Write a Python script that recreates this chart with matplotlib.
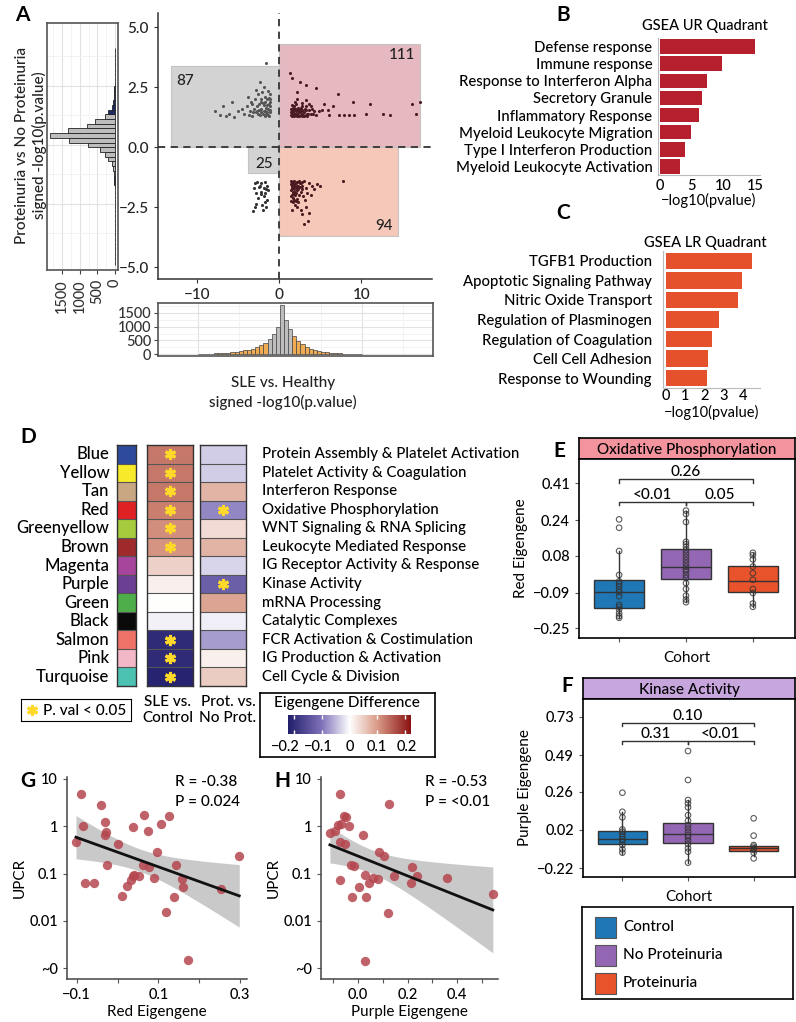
import numpy as np
import matplotlib.pyplot as plt
from matplotlib.patches import Rectangle
from matplotlib.colors import LinearSegmentedColormap, to_rgb
from matplotlib.transforms import ScaledTranslation

plt.rcParams['font.family'] = ['Lato', 'DejaVu Sans']
plt.rcParams['font.weight'] = 'medium'
plt.rcParams['axes.unicode_minus'] = True

W, H = 796, 1022
fig = plt.figure(figsize=(W / 100, H / 100), dpi=100)


def px_axes(l, t, r, b):
    return fig.add_axes([l / W, 1 - b / H, (r - l) / W, (b - t) / H])


def ftext(x, y, s, **kw):
    fig.text(x / W, 1 - y / H, s, **kw)


# ---------------- data ----------------
# panel A quadrant scatter (signed -log10 p)
ur_pts = [(1.3, 3.1), (1.5, 2.9), (2.5, 2.7), (3.2, 2.6), (4.4, 2.46), (2.1, 2.3), (7.2, 2.2), (9.0, 1.9),
          (11.1, 1.8), (16.2, 1.8), (17.1, 1.9), (16.6, 1.4), (12.6, 1.4), (13.5, 1.35), (10.5, 1.4),
          (9.1, 1.35), (8.5, 1.35), (7.9, 1.35), (7.3, 1.35), (6.5, 1.7), (5.9, 1.55), (5.2, 1.55), (5.4, 1.8),
          (1.4, 1.35), (1.6, 1.45), (1.8, 1.3), (2.0, 1.5), (2.2, 1.4), (2.4, 1.6), (2.6, 1.35), (2.8, 1.7),
          (3.0, 1.45), (3.2, 1.55), (3.4, 1.3), (3.6, 1.8), (3.8, 1.4), (4.0, 1.6), (4.2, 1.5), (4.5, 1.35),
          (1.5, 1.75), (1.7, 1.6), (1.9, 1.9), (2.1, 1.3), (2.3, 1.65), (2.5, 1.45), (2.7, 1.85), (2.9, 1.35),
          (3.1, 1.6), (3.3, 1.95), (3.5, 1.4), (3.9, 1.7), (1.6, 1.4), (1.8, 1.55), (2.0, 1.8), (2.2, 2.0),
          (2.6, 1.5), (3.0, 1.3), (3.4, 1.4), (4.8, 1.5), (1.4, 1.6), (1.7, 1.35), (2.4, 1.3), (2.8, 1.55),
          (1.5, 1.5), (1.7, 1.45), (1.9, 1.4), (2.1, 1.55), (2.3, 1.35), (2.5, 1.55), (2.7, 1.4), (2.9, 1.5),
          (1.4, 1.45), (1.6, 1.65), (1.8, 1.7), (2.0, 1.35), (2.2, 1.6), (2.4, 1.45), (2.6, 1.65), (3.2, 1.35),
          (3.6, 1.55), (4.1, 1.4), (1.5, 1.3), (1.9, 1.6), (2.3, 1.5), (2.7, 1.3), (3.3, 1.7), (6.1, 1.35)]
ul_pts = [(-7.8, 1.5), (-7.2, 1.35), (-6.9, 1.7), (-6.5, 1.3), (-6.2, 1.4), (-5.8, 1.9), (-5.5, 1.25),
          (-5.0, 1.5), (-4.6, 1.6), (-4.3, 1.4), (-4.0, 1.7), (-3.8, 2.1), (-3.6, 1.5), (-3.4, 1.8),
          (-3.3, 1.3), (-3.1, 1.6), (-3.0, 2.0), (-2.9, 1.45), (-2.7, 1.7), (-2.6, 2.2), (-2.5, 1.55),
          (-2.4, 1.35), (-2.3, 1.9), (-2.2, 1.6), (-2.1, 2.3), (-2.0, 1.4), (-1.9, 1.75), (-1.8, 2.1),
          (-1.7, 1.5), (-1.6, 1.65), (-1.5, 2.0), (-1.4, 1.35), (-1.3, 1.8), (-1.2, 2.2), (-1.1, 1.55),
          (-1.9, 2.5), (-2.4, 2.7), (-1.6, 3.5), (-1.3, 1.3), (-2.8, 2.4), (-3.5, 1.9), (-1.5, 1.45),
          (-2.0, 1.85), (-1.2, 1.7), (-2.6, 1.4), (-1.8, 1.3), (-3.7, 1.35), (-2.2, 2.0), (-1.4, 2.35),
          (-1.2, 1.45), (-1.3, 2.05), (-1.5, 1.75), (-1.7, 1.9), (-1.1, 1.9), (-1.4, 1.6), (-2.3, 1.45),
          (-2.7, 1.5), (-3.2, 1.45), (-1.6, 1.4), (-1.2, 2.0), (-1.9, 1.5), (-2.5, 1.8)]
ll_pts = [(-3.0, -1.5), (-2.7, -1.45), (-2.2, -1.5), (-1.8, -1.45), (-3.1, -1.7), (-2.5, -1.65),
          (-1.9, -1.7), (-1.5, -1.6), (-2.9, -1.9), (-2.3, -1.85), (-1.7, -1.9), (-1.4, -1.8),
          (-2.6, -2.1), (-1.9, -2.05), (-1.5, -2.2), (-2.8, -2.35), (-2.1, -2.4), (-1.6, -2.5),
          (-3.2, -2.65), (-2.0, -2.6), (-2.4, -1.6), (-1.6, -1.75), (-2.2, -1.95), (-1.8, -2.3), (-3.0, -2.5)]
lr_pts = [(1.4, -1.4), (1.6, -1.45), (1.8, -1.4), (2.0, -1.5), (2.2, -1.45), (2.4, -1.4), (2.6, -1.5),
          (2.8, -1.45), (3.0, -1.4), (1.5, -1.6), (1.7, -1.65), (1.9, -1.55), (2.1, -1.7), (2.3, -1.6),
          (2.5, -1.65), (2.7, -1.6), (1.4, -1.8), (1.6, -1.85), (1.8, -1.75), (2.0, -1.9), (2.2, -1.8),
          (2.6, -1.85), (3.2, -1.7), (1.5, -2.0), (1.7, -2.1), (1.9, -2.0), (2.1, -2.15), (2.4, -2.0),
          (1.4, -2.25), (1.6, -2.3), (1.9, -2.4), (2.3, -2.3), (3.6, -1.5), (4.0, -1.6), (4.6, -1.55),
          (3.4, -1.9), (3.9, -2.0), (3.1, -2.2), (4.2, -1.75), (2.6, -2.6), (3.3, -2.5), (2.8, -2.8),
          (3.6, -2.75), (3.0, -3.2), (3.5, -3.1), (7.8, -1.4), (5.0, -1.6), (2.2, -2.5), (1.5, -2.6),
          (2.9, -2.05), (1.5, -1.5), (1.8, -1.6), (2.0, -1.65), (1.6, -1.95), (1.8, -2.2), (1.4, -1.55),
          (1.7, -1.5), (2.1, -1.45), (2.3, -1.75), (1.5, -1.7), (1.9, -1.85), (2.5, -1.5), (1.7, -1.95),
          (1.4, -2.05), (2.0, -2.25), (2.7, -1.75), (1.6, -1.6), (2.2, -1.6)]

quad_x0 = [0, -13.2, -3.8, 0]
quad_x1 = [17.1, 0, 0, 14.5]
quad_y0 = [0, 0, -1.06, -3.7]
quad_y1 = [4.3, 3.4, 0, 0]
quad_colors = ['#e6b9c0', '#d3d3d3', '#d3d3d3', '#f5c8ba']
quad_counts = ['111', '87', '25', '94']
count_x = [14.9, -11.5, -1.9, 12.7]
count_y = [3.85, 2.75, -0.72, -3.3]

# marginal histograms
xhist_centers = np.arange(-9.75, 10, 0.5)
xhist_counts = [20, 20, 25, 30, 35, 40, 50, 60, 75, 90, 110, 140, 170, 210, 260, 330, 420, 560, 750, 1000,
                1760, 1250, 900, 650, 480, 360, 270, 200, 150, 115, 90, 70, 55, 45, 38, 30, 25, 22, 20, 18]
yhist_centers = np.round(np.arange(-5.0, 4.01, 0.2), 2)
yhist_counts = [3, 3, 3, 3, 3, 4, 4, 4, 5, 5, 6, 7, 8, 9, 10, 12, 14, 16, 20, 30, 50, 94, 190, 283,
                425, 755, 1295, 1850, 1320, 800, 570, 283, 190, 90, 55, 35, 24, 16, 12, 9, 7, 6, 5, 4, 3, 3]

# panels B / C
ur_terms = ['Defense response', 'Immune response', 'Response to Interferon Alpha', 'Secretory Granule',
            'Inflammatory Response', 'Myeloid Leukocyte Migration', 'Type I Interferon Production',
            'Myeloid Leukocyte Activation']
ur_vals = [15.0, 9.8, 7.4, 6.6, 6.1, 4.9, 3.9, 3.1]
lr_terms = ['TGFB1 Production', 'Apoptotic Signaling Pathway', 'Nitric Oxide Transport',
            'Regulation of Plasminogen', 'Regulation of Coagulation', 'Cell Cell Adhesion',
            'Response to Wounding']
lr_vals = [4.5, 3.95, 3.75, 2.75, 2.4, 2.2, 2.15]

# panel D
modules = ['Blue', 'Yellow', 'Tan', 'Red', 'Greenyellow', 'Brown', 'Magenta', 'Purple', 'Green', 'Black',
           'Salmon', 'Pink', 'Turquoise']
module_colors = ['#2e4a9c', '#f7ea2a', '#c9a783', '#e02124', '#a6cb3c', '#9e2a2b', '#a7449b', '#6b3f93',
                 '#4dae4a', '#0a0a0a', '#ee7268', '#f3b8c8', '#4cc2b2']
module_terms = ['Protein Assembly & Platelet Activation', 'Platelet Activity & Coagulation',
                'Interferon Response', 'Oxidative Phosphorylation', 'WNT Signaling & RNA Splicing',
                'Leukocyte Mediated Response', 'IG Receptor Activity & Response', 'Kinase Activity',
                'mRNA Processing', 'Catalytic Complexes', 'FCR Activation & Costimulation',
                'IG Production & Activation', 'Cell Cycle & Division']
sle_diff = [0.13, 0.13, 0.13, 0.125, 0.11, 0.105, 0.045, 0.015, 0.0, -0.01, -0.2, -0.2, -0.21]
prot_diff = [-0.035, -0.035, 0.075, -0.085, 0.035, 0.075, -0.03, -0.125, 0.09, -0.012, -0.07, 0.015, 0.05]
sle_sig = [0, 1, 2, 3, 4, 5, 10, 11, 12]
prot_sig = [3, 7]

# panels E / F
cohorts = ['Control', 'No Proteinuria', 'Proteinuria']
cohort_colors = ['#1f78b5', '#9467b5', '#e9532b']
red_pts = [
    [0.245, 0.207, 0.101, -0.008, -0.037, -0.048, -0.060, -0.075, -0.087, -0.105, -0.143, -0.153, -0.165,
     -0.183, -0.195, -0.203],
    [0.285, 0.27, 0.233, 0.143, 0.132, 0.12, 0.105, 0.09, 0.075, 0.06, 0.045, 0.03, 0.018, 0.008, -0.008,
     -0.022, -0.045, -0.072, -0.102, -0.12, -0.132],
    [0.093, 0.082, 0.063, 0.030, 0.0, -0.03, -0.072, -0.09, -0.138, -0.153]]
red_q1 = [-0.157, -0.026, -0.085]
red_med = [-0.087, 0.030, -0.037]
red_q3 = [-0.030, 0.108, 0.035]
red_lo = [-0.203, -0.132, -0.153]
red_hi = [0.101, 0.285, 0.093]
red_pvals = ['<0.01', '0.05', '0.26']

purple_pts = [
    [0.254, 0.134, 0.099, 0.023, 0.009, -0.005, -0.022, -0.039, -0.054, -0.075, -0.102, -0.123],
    [0.516, 0.334, 0.208, 0.187, 0.162, 0.113, 0.078, 0.05, 0.03, 0.008, -0.013, -0.027, -0.048, -0.069,
     -0.096, -0.117, -0.186],
    [0.093, -0.016, -0.075, -0.085, -0.096, -0.106, -0.123, -0.159]]
pur_q1 = [-0.069, -0.064, -0.111]
pur_med = [-0.039, -0.008, -0.096]
pur_q3 = [0.015, 0.061, -0.081]
pur_lo = [-0.132, -0.186, -0.145]
pur_hi = [0.134, 0.208, -0.075]
pur_pvals = ['0.31', '<0.01', '0.10']

# panels G / H
red_eig = [-0.090, -0.084, -0.102, -0.040, -0.031, -0.028, -0.031, -0.025, -0.080, -0.057, 0.002, 0.037,
           0.075, 0.065, 0.096, 0.107, 0.125, 0.143, 0.089, 0.052, 0.037, 0.032, 0.022, 0.011, 0.063, 0.076,
           0.157, 0.160, 0.137, 0.118, 0.173, 0.253, 0.298, 0.041]
red_upcr = [4.7, 1.03, 0.46, 2.8, 1.25, 0.74, 0.65, 0.15, 0.063, 0.063, 0.43, 0.98, 0.8, 1.76, 0.28, 1.13,
            1.62, 0.15, 0.08, 0.09, 0.09, 0.074, 0.054, 0.033, 0.155, 0.14, 0.078, 0.052, 0.032, 0.015,
            0.0015, 0.046, 0.24, 0.093]
pur_eig = [-0.074, -0.114, -0.092, -0.082, -0.071, -0.058, -0.048, -0.038, -0.074, -0.051, 0.020, 0.124,
           -0.028, -0.015, -0.074, 0.003, 0.026, 0.043, 0.061, 0.079, 0.084, 0.106, 0.147, 0.218, 0.238,
           0.215, 0.032, -0.024, 0.120, 0.027, 0.360, 0.545]
pur_upcr = [4.7, 0.72, 0.78, 1.08, 1.13, 1.67, 1.57, 1.0, 0.46, 0.43, 0.66, 2.9, 0.153, 0.146, 0.072, 0.052,
            0.094, 0.063, 0.080, 0.076, 0.28, 0.24, 0.087, 0.14, 0.087, 0.063, 0.032, 0.032, 0.0144, 0.0014,
            0.080, 0.037]
upcr_ticks = [10, 1, 0.1, 0.01, 0.001]
upcr_labels = ['10', '1', '0.1', '0.01', '~0']

heat_cmap = LinearSegmentedColormap.from_list(
    'eig', [(0, '#201f6b'), (0.27, '#7f70b8'), (0.5, '#ffffff'), (0.73, '#d99a86'), (1, '#8a1212')])

# ---------------- panel A ----------------
ftext(22, 15, 'A', fontsize=15, fontweight='bold', ha='center', va='center')
ax = px_axes(158, 13, 432, 279)
ax.set_xlim(-14.8, 18.6)
ax.set_ylim(-5.5, 5.6)
for x0, x1, y0, y1, c in zip(quad_x0, quad_x1, quad_y0, quad_y1, quad_colors):
    ax.add_patch(Rectangle((x0, y0), x1 - x0, y1 - y0, facecolor=c, edgecolor='#c4c4c4', lw=0.8, zorder=0))
for s, x, y in zip(quad_counts, count_x, count_y):
    ax.text(x, y, s, fontsize=11, ha='center', va='center', color='#222')
for pts, c in [(ur_pts, '#4a1c22'), (lr_pts, '#4a1c22'), (ul_pts, '#555555'), (ll_pts, '#333333')]:
    p = np.array(pts)
    ax.scatter(p[:, 0], p[:, 1], s=5, color=c, lw=0, zorder=3)
ax.axvline(0, ls=(0, (4, 3)), color='#333', lw=1.3, zorder=4)
ax.axhline(0, ls=(0, (4, 3)), color='#333', lw=1.3, zorder=4)
ax.set_xticks([-10, 0, 10])
ax.set_yticks([-5, -2.5, 0, 2.5, 5])
ax.set_yticklabels(['\u22125.0', '\u22122.5', '0.0', '2.5', '5.0'])
ax.tick_params(labelsize=11, color='#333', length=3, width=0.8, labelcolor='#222')
for sp in ['top', 'right']:
    ax.spines[sp].set_visible(False)
for sp in ['left', 'bottom']:
    ax.spines[sp].set_color('#333')
    ax.spines[sp].set_linewidth(1.1)

# left marginal histogram
axl = px_axes(47, 23, 118, 270)
axl.set_ylim(-5.3, 5.17)
axl.set_xlim(1930, -85)
ycols = ['#bdbdbd' if abs(c) < 1.35 else '#1c2a66' for c in yhist_centers]
axl.barh(yhist_centers, yhist_counts, height=0.2, color=ycols, edgecolor='#222', lw=0.6, zorder=3)
axl.set_xticks([1500, 1000, 500, 0])
axl.set_xticks([1750, 1250, 750, 250], minor=True)
axl.set_yticks([-2.5, 0, 2.5])
axl.set_yticks([-3.75, -1.25, 1.25, 3.75], minor=True)
axl.grid(True, which='major', color='#e2e2e2', lw=0.8)
axl.grid(True, which='minor', color='#efefef', lw=0.5)
axl.tick_params(axis='x', labelrotation=90, labelsize=10.5, length=3, color='#444', labelcolor='#333')
axl.tick_params(axis='y', labelleft=False, length=0)
axl.tick_params(which='minor', length=0)
for sp in axl.spines.values():
    sp.set_color('#555')
    sp.set_linewidth(1.2)

# bottom marginal histogram
axh = px_axes(158, 303, 433, 356)
axh.set_xlim(-14.8, 18.6)
axh.set_ylim(-60, 1850)
xcols = ['#bdbdbd' if abs(c) < 1.5 else '#f0ab55' for c in xhist_centers]
axh.bar(xhist_centers, xhist_counts, width=0.5, color=xcols, edgecolor='#444', lw=0.5, zorder=3)
axh.set_yticks([0, 500, 1000, 1500])
axh.set_yticks([250, 750, 1250, 1750], minor=True)
axh.set_xticks([-10, 0, 10])
axh.set_xticks([-5, 5, 15], minor=True)
axh.grid(True, which='major', color='#e2e2e2', lw=0.8)
axh.grid(True, which='minor', color='#efefef', lw=0.5)
axh.tick_params(axis='x', labelbottom=False, length=0)
axh.tick_params(axis='y', labelsize=10.5, length=3, color='#444', labelcolor='#333', pad=2)
axh.tick_params(which='minor', length=0)
for sp in axh.spines.values():
    sp.set_color('#555')
    sp.set_linewidth(1.2)

ftext(31, 145, 'Proteinuria vs No Proteinuria\nsigned -log10(p.value)', rotation=90, ha='center',
      va='center', fontsize=11, linespacing=1.2, color='#222')
ftext(283, 383, 'SLE vs. Healthy', ha='center', va='center', fontsize=11, color='#222')
ftext(283, 402, 'signed -log10(p.value)', ha='center', va='center', fontsize=11, color='#222')

# ---------------- panel B ----------------
ftext(563, 15, 'B', fontsize=15, fontweight='bold', ha='center', va='center')
ftext(705, 26, 'GSEA UR Quadrant', ha='center', va='center', fontsize=10.5)
axb = px_axes(658, 38, 760, 175)
yb = np.arange(len(ur_terms))
axb.barh(yb, ur_vals, height=0.84, color='#b51f2e')
axb.set_ylim(len(ur_terms) - 0.5, -0.5)
axb.set_xlim(-0.3, 15.75)
axb.set_yticks(yb)
axb.set_yticklabels(ur_terms, fontsize=10.7)
axb.set_xticks([0, 5, 10, 15])
axb.tick_params(axis='y', length=0, pad=4)
axb.tick_params(axis='x', length=0, labelsize=10.5, pad=3)
axb.set_xlabel('\u2212log10(pvalue)', fontsize=10.5, labelpad=0)
for sp in ['top', 'right']:
    axb.spines[sp].set_visible(False)
for sp in ['left', 'bottom']:
    axb.spines[sp].set_color('#bbbbbb')

# ---------------- panel C ----------------
ftext(563, 213, 'C', fontsize=15, fontweight='bold', ha='center', va='center')
ftext(705, 243, 'GSEA LR Quadrant', ha='center', va='center', fontsize=10.5)
axc = px_axes(663, 251, 760, 388)
yc = np.arange(len(lr_terms))
axc.barh(yc, lr_vals, height=0.84, color='#e5512a')
axc.set_ylim(len(lr_terms) - 0.5, -0.5)
axc.set_xlim(-0.15, 4.9)
axc.set_yticks(yc)
axc.set_yticklabels(lr_terms, fontsize=10.7)
axc.set_xticks([0, 1, 2, 3, 4])
axc.tick_params(axis='y', length=0, pad=8)
axc.tick_params(axis='x', length=0, labelsize=10.5, pad=1)
axc.set_xlabel('\u2212log10(pvalue)', fontsize=10.5, labelpad=1)
for sp in ['top', 'right']:
    axc.spines[sp].set_visible(False)
for sp in ['left', 'bottom']:
    axc.spines[sp].set_color('#bbbbbb')

# ---------------- panel D ----------------
ftext(28, 437, 'D', fontsize=15, fontweight='bold', ha='center', va='center')
n_mod = len(modules)


def heat_column(l, r, values=None, colors=None, stars=()):
    a = px_axes(l, 445, r, 686)
    if colors is not None:
        img = np.array([to_rgb(c) for c in colors]).reshape(-1, 1, 3)
        a.imshow(img, aspect='auto', interpolation='nearest')
    else:
        a.imshow(np.array(values).reshape(-1, 1), cmap=heat_cmap, vmin=-0.22, vmax=0.22,
                 aspect='auto', interpolation='nearest')
    a.hlines(np.arange(0.5, n_mod - 0.5), -0.5, 0.5, color='#555', lw=0.8)
    if stars:
        a.plot(np.zeros(len(stars)), list(stars), ls='none', marker=(6, 2, 0), ms=8, mew=2.2,
               color='#ffd92a')
    a.set_xlim(-0.5, 0.5)
    a.set_ylim(n_mod - 0.5, -0.5)
    a.set_xticks([])
    a.set_yticks([])
    for sp in a.spines.values():
        sp.set_color('#333')
        sp.set_linewidth(1)
    return a


axs = heat_column(117, 136, colors=module_colors)
for i, name in enumerate(modules):
    axs.text(-0.9, i, name, transform=axs.transData, ha='right', va='center', fontsize=12)
axp = heat_column(200, 246, values=prot_diff, stars=prot_sig)
heat_column(147, 193, values=sle_diff, stars=sle_sig)
for i, term in enumerate(module_terms):
    axp.text(0.85, i, term, ha='left', va='center', fontsize=10.8, transform=axp.transData, clip_on=False)

axk = px_axes(21, 699, 131, 721)
axk.set_xlim(0, 1)
axk.set_ylim(0, 1)
axk.set_xticks([])
axk.set_yticks([])
axk.plot([0.1], [0.5], ls='none', marker=(6, 2, 0), ms=8, mew=2.2, color='#ffd92a')
axk.text(0.2, 0.47, 'P. val < 0.05', ha='left', va='center', fontsize=11)
ftext(168, 710, 'SLE vs.\nControl', ha='center', va='center', fontsize=11, linespacing=1.2)
ftext(228, 710, 'Prot. vs.\nNo Prot.', ha='center', va='center', fontsize=11, linespacing=1.2)

axbox = px_axes(260, 693, 435, 757)
axbox.set_xticks([])
axbox.set_yticks([])
for sp in axbox.spines.values():
    sp.set_linewidth(1.2)
ftext(347, 703, 'Eigengene Difference', ha='center', va='center', fontsize=11)
axcb = px_axes(288, 715, 411, 734)
grad = np.linspace(-0.22, 0.22, 256).reshape(1, -1)
axcb.imshow(grad, cmap=heat_cmap, vmin=-0.22, vmax=0.22, aspect='auto', extent=[-0.22, 0.22, 0, 1])
cb_ticks = [-0.2, -0.1, 0, 0.1, 0.2]
axcb.vlines(cb_ticks, 0, 0.2, color='white', lw=1)
axcb.vlines(cb_ticks, 0.8, 1, color='white', lw=1)
axcb.set_xticks(cb_ticks)
axcb.set_xticklabels(['\u22120.2', '\u22120.1', '0', '0.1', '0.2'])
axcb.tick_params(axis='x', length=0, labelsize=10.5, pad=4)
# nudge the crowded labels apart a little
for lab, dx in zip(axcb.get_xticklabels(), [-8, -3, 0, -1, 1]):
    lab.set_transform(lab.get_transform() + ScaledTranslation(dx / 100, 0, fig.dpi_scale_trans))
axcb.set_yticks([])
for sp in axcb.spines.values():
    sp.set_visible(False)


# ---------------- panels E / F ----------------
def cohort_box(strip_top, top, bottom, left, title, strip_color, pts, q1, med, q3, lo, hi, ylim, yticks,
               ylabel, pvals, y_low, y_high, letter, letter_x, letter_y):
    ftext(letter_x, letter_y, letter, fontsize=15, fontweight='bold', ha='center', va='center')
    st = px_axes(left, strip_top, 795, top)
    st.set_facecolor(strip_color)
    st.set_xticks([])
    st.set_yticks([])
    st.text(0.5, 0.45, title, ha='center', va='center', fontsize=11, transform=st.transAxes)
    for sp in st.spines.values():
        sp.set_linewidth(1.2)
    a = px_axes(left, top, 795, bottom)
    stats = [dict(q1=q1[i], med=med[i], q3=q3[i], whislo=lo[i], whishi=hi[i]) for i in range(3)]
    bp = a.bxp(stats, positions=[1, 2, 3], widths=0.75, patch_artist=True, showfliers=False,
               showcaps=False, boxprops=dict(edgecolor='#333', lw=1),
               medianprops=dict(color='#333', lw=1), whiskerprops=dict(color='#333', lw=1))
    for patch, c in zip(bp['boxes'], cohort_colors):
        patch.set_facecolor(c)
    for i, vals in enumerate(pts):
        a.scatter(np.full(len(vals), i + 1), vals, s=16, facecolors='none', edgecolors='#333',
                  lw=0.8, alpha=0.8, zorder=4)
    tick = (ylim[1] - ylim[0]) * 0.02
    for (x0, x1, y, s) in [(1, 2, y_low, pvals[0]), (2, 3, y_low, pvals[1]), (1, 3, y_high, pvals[2])]:
        a.plot([x0, x0, x1, x1], [y - tick, y, y, y - tick], color='#333', lw=1)
        a.text((x0 + x1) / 2, y, s, ha='center', va='bottom', fontsize=11)
    a.set_xlim(0.4, 3.63)
    a.set_ylim(*ylim)
    a.set_yticks(yticks)
    a.set_yticklabels([f'{t:.2f}'.replace('-', '\u2212') for t in yticks])
    a.set_xticks([1, 2, 3])
    a.set_xticklabels([])
    a.tick_params(labelsize=10.5, length=3, color='#555')
    a.set_ylabel(ylabel, fontsize=11, labelpad=3)
    a.set_xlabel('Cohort', fontsize=11, labelpad=3)
    for sp in a.spines.values():
        sp.set_linewidth(1.2)
    return a


cohort_box(438, 459, 638, 579, 'Oxidative Phosphorylation', '#f2939d', red_pts, red_q1, red_med, red_q3,
           red_lo, red_hi, (-0.295, 0.52), [-0.25, -0.09, 0.08, 0.24, 0.41], 'Red Eigengene',
           red_pvals, 0.326, 0.428, 'E', 559, 451)
cohort_box(678, 699, 877, 583, 'Kinase Activity', '#c7a6de', purple_pts, pur_q1, pur_med, pur_q3,
           pur_lo, pur_hi, (-0.276, 0.843), [-0.22, 0.02, 0.26, 0.49, 0.73], 'Purple Eigengene',
           pur_pvals, 0.581, 0.694, 'F', 567, 686)

axlg = px_axes(582, 907, 793, 999)
axlg.set_xlim(0, 211)
axlg.set_ylim(92, 0)
axlg.set_xticks([])
axlg.set_yticks([])
for sp in axlg.spines.values():
    sp.set_linewidth(1.2)
for i, (lab, c) in enumerate(zip(cohorts, cohort_colors)):
    yc_ = 20 + 28 * i
    axlg.add_patch(Rectangle((13, yc_ - 10.5), 21, 21, facecolor=c, edgecolor='#555', lw=0.8))
    axlg.text(41, yc_, lab, ha='left', va='center', fontsize=11)


# ---------------- panels G / H ----------------
def corr_panel(l, r, xv, yv, xlim, xticks, xlabels, xlabel, rtxt, ptxt, letter, text_x):
    ftext(l - 39, 781, letter, fontsize=15, fontweight='bold', ha='center', va='center')
    a = px_axes(l, 777, r, 979)
    x = np.array(xv)
    y = np.log10(np.array(yv))
    n = len(x)
    slope, icpt = np.polyfit(x, y, 1)
    xs = np.linspace(x.min(), x.max(), 100)
    resid = y - (icpt + slope * x)
    s = np.sqrt(np.sum(resid ** 2) / (n - 2))
    se = s * np.sqrt(1 / n + (xs - x.mean()) ** 2 / np.sum((x - x.mean()) ** 2))
    fit = icpt + slope * xs
    a.fill_between(xs, fit - 2.03 * se, fit + 2.03 * se, color='#c9c9c9', lw=0, zorder=1)
    a.scatter(x, y, s=45, color='#b5464f', alpha=0.85, lw=0, zorder=2)
    a.plot(xs, fit, color='#111', lw=2, zorder=3)
    a.set_xlim(*xlim)
    a.set_ylim(-3.23, 1.04)
    a.set_yticks(np.log10(upcr_ticks))
    a.set_yticklabels(upcr_labels)
    a.set_xticks(xticks)
    a.set_xticklabels(xlabels)
    a.tick_params(labelsize=10.5, length=3, color='#555')
    a.set_ylabel('UPCR', fontsize=11, labelpad=2)
    a.set_xlabel(xlabel, fontsize=11, labelpad=2)
    for sp in ['top', 'right']:
        a.spines[sp].set_visible(False)
    for sp in ['left', 'bottom']:
        a.spines[sp].set_color('#444')
        a.spines[sp].set_linewidth(1.1)
    ftext(text_x, 782, rtxt, ha='left', va='center', fontsize=11)
    ftext(text_x, 802, ptxt, ha='left', va='center', fontsize=11)


corr_panel(67, 247, red_eig, red_upcr, (-0.124, 0.317), [-0.1, 0, 0.1, 0.2, 0.3],
           ['\u22120.1', '', '0.1', '', '0.3'], 'Red Eigengene', 'R = -0.38', 'P = 0.024', 'G', 175)
corr_panel(321, 498, pur_eig, pur_upcr, (-0.15, 0.566), [-0.1, 0, 0.1, 0.2, 0.3, 0.4, 0.5],
           ['', '0.0', '', '0.2', '', '0.4', ''], 'Purple Eigengene', 'R = -0.53', 'P = <0.01', 'H', 425)

fig.savefig('out.png', dpi=100)
